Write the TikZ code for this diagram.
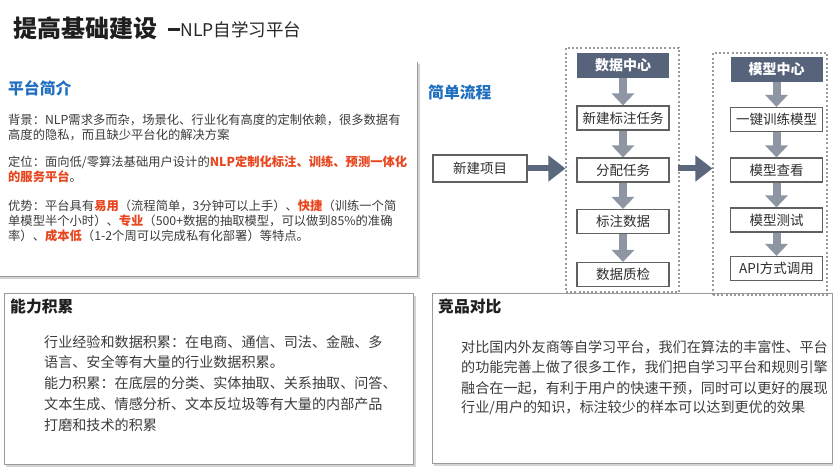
\documentclass[tikz,border=0pt]{standalone}
\usepackage{fontspec}
\setmainfont{Noto Sans CJK SC}
\usetikzlibrary{arrows.meta}
\definecolor{txt}{HTML}{3C3C3C}
\definecolor{hlred}{HTML}{E8461E}
\definecolor{hblue}{HTML}{1F6EBF}
\definecolor{hdr}{HTML}{56637A}
\definecolor{darr}{HTML}{8E96A4}
\definecolor{harr}{HTML}{5A677D}
\definecolor{bord}{HTML}{9A9A9A}
\definecolor{shad}{HTML}{D4D4D4}
\newcommand\redb[1]{{\color{hlred}\bfseries #1}}
\begin{document}
\begin{tikzpicture}[x=1pt,y=-1pt,
  tline/.style={anchor=west, inner sep=0, text=txt, font=\fontsize{12.3}{14.5}\selectfont},
  bline/.style={anchor=west, inner sep=0, text=txt, font=\fontsize{14.1}{16}\selectfont},
  heading/.style={anchor=west, inner sep=0, font=\fontsize{15.8}{17}\selectfont\bfseries},
  fbox/.style={draw=gray!75!black, line width=1.1pt, fill=white, minimum width=92pt, minimum height=24pt, inner sep=0, text=black!82, font=\fontsize{13.5}{14}\selectfont},
  hbox/.style={fill=hdr, minimum width=92pt, minimum height=25pt, inner sep=0, text=white, font=\fontsize{14}{14}\selectfont\bfseries},
  group/.style={draw=bord, line width=1.1pt, dash pattern=on 2pt off 2.2pt, inner sep=0},
  panel/.style={draw=bord, line width=1pt, fill=white, inner sep=0},
  darrow/.style={draw=darr, line width=8pt, -{Triangle[width=22pt,length=12pt]}},
  harrow/.style={draw=harr, line width=6pt, -{Triangle[width=25pt,length=17pt]}}
]
\fill[white] (0,0) rectangle (833,468);
\useasboundingbox (0,0) rectangle (833,468);

% title
\node[anchor=west, inner sep=0, text=black!88, font=\fontsize{24}{25}\selectfont\bfseries] (title) at (13,28) {提高基础建设};
\node[anchor=west, inner sep=0, text=black!85, font=\fontsize{17.5}{18}\selectfont] (subtitle) at (168,30) {\rule[0.3em]{0.7em}{0.17em}NLP自学习平台};

% top-left panel
\draw[shad, line width=2pt] (419,64) -- (419,278) -- (0,278);
\draw[bord, line width=1pt] (417,62) -- (417,276) -- (0,276);
\node[heading, text=hblue] (h-intro) at (8,88) {平台简介};
\node[tline] (i1) at (8,120) {背景：NLP需求多而杂，场景化、行业化有高度的定制依赖，很多数据有};
\node[tline] (i2) at (8,134.5) {高度的隐私，而且缺少平台化的解决方案};
\node[tline] (i3) at (8,162.5) {定位：面向低/零算法基础用户设计的\redb{NLP定制化标注、训练、预测一体化}};
\node[tline] (i4) at (8,177) {\redb{的服务平台}。};
\node[tline] (i5) at (8,206) {优势：平台具有\redb{易用}（流程简单，3分钟可以上手）、\redb{快捷}（训练一个简};
\node[tline] (i6) at (8,221) {单模型半个小时）、\redb{专业}（500+数据的抽取模型，可以做到85\%的准确};
\node[tline] (i7) at (8,236) {率）、\redb{成本低}（1-2个周可以完成私有化部署）等特点。};

% flow heading
\node[heading, text=hblue] (h-flow) at (428,92) {简单流程};

% group frames
\node[group, minimum width=113pt, minimum height=244pt] (g1) at (622.5,170) {};

% bottom panels
\draw[shad, line width=2pt] (415,296) -- (415,466) -- (6,466);
\node[panel, minimum width=409pt, minimum height=171pt] (cap) at (208.5,378.5) {};
\draw[shad, line width=2pt] (834,296) -- (834,465) -- (434,465);
\node[panel, minimum width=400pt, minimum height=170pt] (comp) at (632,378) {};

\node[group, minimum width=114pt, minimum height=242pt] (g2) at (770,174) {};

% data center column
\node[hbox] (d0) at (623,65.5) {数据中心};
\node[fbox] (d1) at (623,118) {新建标注任务};
\node[fbox] (d2) at (623,170) {分配任务};
\node[fbox] (d3) at (623,221.5) {标注数据};
\node[fbox] (d4) at (623,274.5) {数据质检};
\draw[darrow] (d0.south) -- (d1.north);
\draw[darrow] (d1.south) -- (d2.north);
\draw[darrow] (d2.south) -- (d3.north);
\draw[darrow] (d3.south) -- (d4.north);

% model center column
\node[hbox] (m0) at (776.5,69.5) {模型中心};
\node[fbox] (m1) at (776.5,119.5) {一键训练模型};
\node[fbox] (m2) at (776.5,170) {模型查看};
\node[fbox] (m3) at (776.5,220) {模型测试};
\node[fbox] (m4) at (776.5,268.5) {API方式调用};
\draw[darrow] (m0.south) -- (m1.north);
\draw[darrow] (m1.south) -- (m2.north);
\draw[darrow] (m2.south) -- (m3.north);
\draw[darrow] (m3.south) -- (m4.north);

% new project
\node[fbox, minimum width=94pt, minimum height=27pt] (p) at (480,168.5) {新建项目};
\draw[harrow] (p.east) -- (p.east -| g1.west);
\draw[harrow] ([xshift=-2pt]g1.east |- p.east) -- (g2.west |- p.east);

% capability panel text
\node[heading, text=black!88] (h-cap) at (10,307) {能力积累};
\node[bline] (c1) at (44,342) {行业经验和数据积累：在电商、通信、司法、金融、多};
\node[bline] (c2) at (44,362.5) {语言、安全等有大量的行业数据积累。};
\node[bline] (c3) at (44,383) {能力积累：在底层的分类、实体抽取、关系抽取、问答、};
\node[bline] (c4) at (44,404) {文本生成、情感分析、文本反垃圾等有大量的内部产品};
\node[bline] (c5) at (44,425) {打磨和技术的积累};

% competition panel text
\node[heading, text=black!88] (h-comp) at (438,306) {竞品对比};
\node[bline] (k1) at (461,347) {对比国内外友商等自学习平台，我们在算法的丰富性、平台};
\node[bline] (k2) at (461,367.5) {的功能完善上做了很多工作，我们把自学习平台和规则引擎};
\node[bline] (k3) at (461,388) {融合在一起，有利于用户的快速干预，同时可以更好的展现};
\node[bline] (k4) at (461,408) {行业/用户的知识，标注较少的样本可以达到更优的效果};
\end{tikzpicture}
\end{document}
